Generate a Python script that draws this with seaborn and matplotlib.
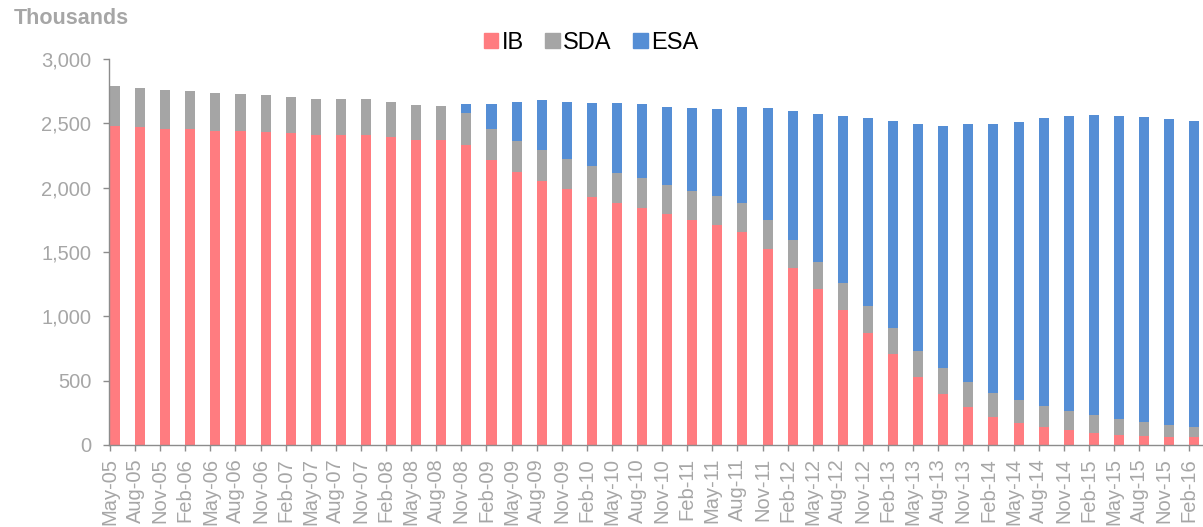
import seaborn as sns
import pandas as pd
import matplotlib.pyplot as plt
from matplotlib.patches import Patch

# trimestres
quarters = ["May-05", "Aug-05", "Nov-05", "Feb-06", "May-06", "Aug-06", "Nov-06", "Feb-07",
            "May-07", "Aug-07", "Nov-07", "Feb-08", "May-08", "Aug-08", "Nov-08", "Feb-09",
            "May-09", "Aug-09", "Nov-09", "Feb-10", "May-10", "Aug-10", "Nov-10", "Feb-11",
            "May-11", "Aug-11", "Nov-11", "Feb-12", "May-12", "Aug-12", "Nov-12", "Feb-13",
            "May-13", "Aug-13", "Nov-13", "Feb-14", "May-14", "Aug-14", "Nov-14", "Feb-15",
            "May-15", "Aug-15", "Nov-15", "Feb-16"]

# valores em milhares
ib = [2481, 2471, 2455, 2453, 2437, 2437, 2432, 2422, 2409, 2409, 2411, 2391,
      2372, 2372, 2331, 2214, 2121, 2051, 1987, 1930, 1880, 1844, 1795, 1751,
      1712, 1657, 1523, 1378, 1210, 1046, 870, 704, 531, 396, 298, 215,
      168, 137, 114, 96, 80, 73, 65, 60]
sda = [306, 300, 301, 298, 296, 290, 285, 285, 279, 277, 277, 272,
       270, 262, 251, 244, 244, 239, 238, 235, 236, 231, 225, 225,
       225, 223, 223, 215, 212, 213, 210, 208, 202, 200, 194, 189,
       179, 166, 153, 137, 122, 106, 93, 77]
esa = [0, 0, 0, 0, 0, 0, 0, 0, 0, 0, 0, 0,
       0, 0, 70, 192, 303, 388, 438, 495, 541, 577, 609, 645,
       676, 744, 872, 1005, 1147, 1297, 1461, 1605, 1761, 1883, 2002, 2090,
       2160, 2240, 2289, 2334, 2352, 2367, 2373, 2380]

df = pd.DataFrame({"quarter": quarters, "IB": ib, "SDA": sda, "ESA": esa})
df["top_sda"] = df["IB"] + df["SDA"]
df["top_esa"] = df["top_sda"] + df["ESA"]

c_ib, c_sda, c_esa = "#FF7C80", "#A5A5A5", "#558ED5"
txt = "#A6A6A6"

sns.set_style("white")
plt.rcParams["font.family"] = ["Liberation Sans", "DejaVu Sans"]

fig = plt.figure(figsize=(12.03, 5.27), dpi=100)
ax = fig.add_axes([109 / 1203, 82 / 527, 1 - 109 / 1203, (445 - 59) / 527])

w = 0.4
# barras empilhadas: total primeiro, depois por cima
sns.barplot(data=df, x="quarter", y="top_esa", color=c_esa, width=w, saturation=1,
            linewidth=0, ax=ax)
sns.barplot(data=df, x="quarter", y="top_sda", color=c_sda, width=w, saturation=1,
            linewidth=0, ax=ax)
sns.barplot(data=df, x="quarter", y="IB", color=c_ib, width=w, saturation=1,
            linewidth=0, ax=ax)

ax.set_ylim(0, 3000)
ax.set_xlim(-w / 2 - 0.04, 43.35)
ax.set_yticks(range(0, 3001, 500))
ax.set_yticklabels([f"{v:,}" for v in range(0, 3001, 500)])
ax.set_xticks([i - w / 2 for i in range(len(quarters))])
ax.set_xticklabels(quarters, rotation=90)
ax.set_xlabel("")
ax.set_ylabel("")

for s in ["top", "right"]:
    ax.spines[s].set_visible(False)
for s in ["left", "bottom"]:
    ax.spines[s].set_color("#8C8C8C")
    ax.spines[s].set_linewidth(1)
ax.tick_params(axis="both", colors="#8C8C8C", labelcolor=txt, labelsize=14.5,
               length=4.3, width=1, direction="out", bottom=True, left=True)
ax.tick_params(axis="y", pad=8.5)
ax.tick_params(axis="x", pad=5)

fig.text(14 / 1203, 1 - 19 / 527, "Thousands", fontsize=15.5, fontweight="bold",
         color=txt, va="center", ha="left")

handles = [Patch(color=c_ib, label="IB"), Patch(color=c_sda, label="SDA"),
           Patch(color=c_esa, label="ESA")]
fig.legend(handles=handles, loc="center", bbox_to_anchor=(591 / 1203, 1 - 43 / 527),
           ncol=3, frameon=False, fontsize=17, handlelength=0.62, handleheight=0.62,
           handletextpad=0.15, columnspacing=0.9, labelcolor="black")

fig.savefig("out.png", dpi=100)
